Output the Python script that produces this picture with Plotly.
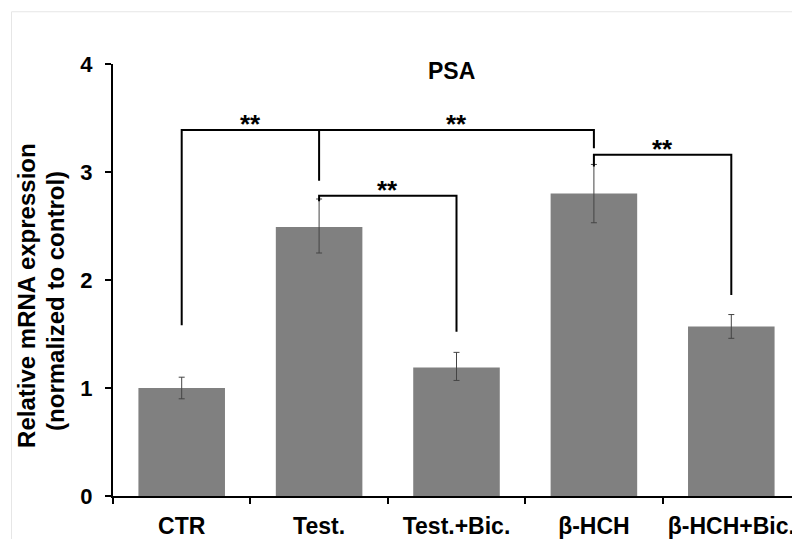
import plotly.graph_objects as go

categories = ["CTR", "Test.", "Test.+Bic.", "β-HCH", "β-HCH+Bic."]
values = [1.00, 2.49, 1.19, 2.80, 1.57]
err_plus = [0.10, 0.26, 0.14, 0.27, 0.11]
err_minus = [0.10, 0.24, 0.12, 0.27, 0.11]

# significance brackets: (from index, to index, top level, drop end at from, drop end at to)
brackets = [
    (0, 1, 3.39, 1.58, 2.92),
    (1, 3, 3.39, 3.39, 3.22),
    (1, 2, 2.78, 2.73, 1.52),
    (3, 4, 3.16, 3.05, 1.86),
]
star_labels = ["**", "**", "**", "**"]

FONT = "Liberation Sans, Arial, sans-serif"

# page has an 8px body margin: figure spans window x 8..800, y 8..539
PX0, PY0 = 113, 64      # plot area left/top in window pixels
PW, PH = 687, 434       # plot area size


def px(X):
    return (X - PX0) / PW


def py(Y):
    return (PY0 + PH - Y) / PH


fig = go.Figure()
fig.add_trace(go.Bar(
    x=list(range(len(categories))),
    y=values,
    width=0.63,
    marker=dict(color="#808080", line=dict(width=0)),
    error_y=dict(type="data", symmetric=False, array=err_plus, arrayminus=err_minus,
                 thickness=1, width=3, color="#444444"),
    showlegend=False,
))

for (a, b, top, ea, eb), lab in zip(brackets, star_labels):
    path = f"M {a},{ea} L {a},{top} L {b},{top} L {b},{eb}"
    fig.add_shape(type="path", path=path, xref="x", yref="y",
                  line=dict(color="black", width=2))
    fig.add_annotation(x=(a + b) / 2, y=top, xref="x", yref="y", text=lab,
                       showarrow=False, yanchor="bottom", yshift=-11,
                       font=dict(family=FONT, size=26, color="black", weight="bold"))

# title
fig.add_annotation(x=px(451), y=py(71), xref="paper", yref="paper", text="PSA",
                   showarrow=False, xanchor="center", yanchor="middle",
                   font=dict(family=FONT, size=23, color="black", weight="bold"))
# y-axis title (two lines)
fig.add_annotation(x=px(27), y=py(297), xref="paper", yref="paper",
                   text="Relative mRNA expression",
                   textangle=-90, showarrow=False, xanchor="center", yanchor="middle",
                   font=dict(family=FONT, size=24, color="black", weight="bold"))
fig.add_annotation(x=px(56), y=py(302), xref="paper", yref="paper",
                   text="(normalized to control)",
                   textangle=-90, showarrow=False, xanchor="center", yanchor="middle",
                   font=dict(family=FONT, size=24, color="black", weight="bold"))
# faint outer frame
fig.add_shape(type="path", xref="paper", yref="paper",
              path=f"M {px(11.5)},-0.2 L {px(11.5)},{py(11.5)} L 1.1,{py(11.5)}",
              line=dict(color="#e6e6e6", width=1))

fig.update_layout(
    width=792, height=531,
    margin=dict(l=PX0 - 8, r=0, t=PY0 - 8, b=531 - (PY0 - 8) - PH),
    plot_bgcolor="white", paper_bgcolor="white",
    xaxis=dict(
        tickmode="array", tickvals=list(range(len(categories))), ticktext=categories,
        range=[-0.5, 4.5], showline=True, linecolor="black", linewidth=2,
        ticks="", showgrid=False, zeroline=False, ticklabelstandoff=8,
        tickfont=dict(family=FONT, size=23, color="black", weight="bold"),
    ),
    yaxis=dict(
        range=[0, 4], tickvals=[0, 1, 2, 3, 4], showline=True, linecolor="black",
        linewidth=2, ticks="outside", ticklen=6, tickwidth=2, tickcolor="black",
        showgrid=False, zeroline=False, ticklabelstandoff=8,
        tickfont=dict(family=FONT, size=22, color="black", weight="bold"),
    ),
    xaxis2=dict(overlaying="x", range=[-0.5, 4.5], tickvals=[-0.5, 0.5, 1.5, 2.5, 3.5, 4.5],
                ticktext=[""] * 6, ticks="outside", ticklen=7, tickwidth=2,
                tickcolor="black", showgrid=False, zeroline=False, showline=False,
                side="bottom", anchor="y"),
)

fig.add_trace(go.Scatter(x=[0], y=[0], xaxis="x2", mode="markers",
                         marker=dict(opacity=0), showlegend=False, hoverinfo="skip"))

fig.write_html("out.html")
